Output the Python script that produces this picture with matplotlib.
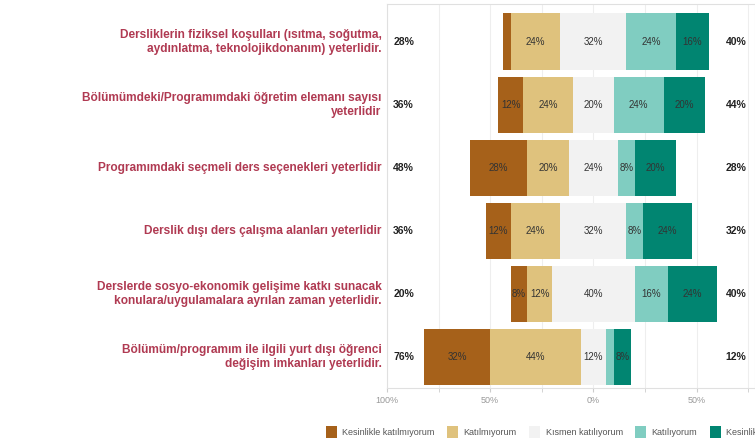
import matplotlib.pyplot as plt
from matplotlib.patches import Patch

items = [
    "Dersliklerin fiziksel koşulları (ısıtma, soğutma,\naydınlatma, teknolojikdonanım) yeterlidir.",
    "Bölümümdeki/Programımdaki öğretim elemanı sayısı\nyeterlidir",
    "Programımdaki seçmeli ders seçenekleri yeterlidir",
    "Derslik dışı ders çalışma alanları yeterlidir",
    "Derslerde sosyo-ekonomik gelişime katkı sunacak\nkonulara/uygulamalara ayrılan zaman yeterlidir.",
    "Bölümüm/programım ile ilgili yurt dışı öğrenci\ndeğişim imkanları yeterlidir.",
]
levels = ["Kesinlikle katılmıyorum", "Katılmıyorum", "Kısmen katılıyorum",
          "Katılıyorum", "Kesinlikle katılıyorum"]
strongly_disagree = [4, 12, 28, 12, 8, 32]
disagree = [24, 24, 20, 24, 12, 44]
neutral = [32, 20, 24, 32, 40, 12]
agree = [24, 24, 8, 8, 16, 4]
strongly_agree = [16, 20, 20, 24, 24, 8]
colors = ["#A6611A", "#DFC27D", "#F2F2F2", "#80CDC1", "#018571"]
xticks = [-100, -50, 0, 50]

plt.rcParams['font.family'] = ['Liberation Sans', 'DejaVu Sans']

fig = plt.figure(figsize=(7.55, 4.45), dpi=100)
ax = fig.add_axes([387 / 755, 1 - 388 / 445, 1 - 387 / 755, (388 - 4) / 445])

rows = range(len(items))
for i in rows:
    vals = [strongly_disagree[i], disagree[i], neutral[i], agree[i], strongly_agree[i]]
    start = -(neutral[i] / 2 + disagree[i] + strongly_disagree[i])
    for v, c in zip(vals, colors):
        ax.barh(i, v, left=start, height=0.9, color=c, edgecolor='none', zorder=2)
        if v >= 5:
            ax.text(start + v / 2, i, f"{v}%", ha='center', va='center',
                    fontsize=7, color='#333333', zorder=3)
        start += v
    low = strongly_disagree[i] + disagree[i]
    high = agree[i] + strongly_agree[i]
    ax.text(-97, i, f"{low}%", ha='left', va='center', fontsize=7.5,
            color='#222222', fontweight='bold')
    ax.text(69, i, f"{high}%", ha='center', va='center', fontsize=7.5,
            color='#222222', fontweight='bold')
    ax.text(-0.015, i, items[i], transform=ax.get_yaxis_transform(),
            ha='right', va='center', multialignment='right', fontsize=8.6,
            fontweight='bold', color='#b03a52', linespacing=1.15)

ax.set_xlim(-100, 78.3)
ax.set_ylim(5.49, -0.6)
ax.set_yticks([])
ax.set_xticks(xticks)
ax.set_xticklabels([f"{abs(t)}%" for t in xticks], fontsize=6.5, color='#999999')
ax.set_xticks([-75, -25, 25, 75], minor=True)
ax.tick_params(axis='x', which='both', length=3, color='#cccccc', pad=3)
ax.grid(axis='x', which='both', color='#eeeeee', linewidth=0.8, zorder=0)
for s in ax.spines.values():
    s.set_color('#e0e0e0')
    s.set_linewidth(0.8)

# legend runs past the right edge, as in the original crop
handles = [Patch(facecolor=c, edgecolor='none') for c in colors]
fig.legend(handles, levels, loc='center left', bbox_to_anchor=(318 / 755, 13 / 445),
           ncol=5, frameon=False, fontsize=6.5, handlelength=1.2, handleheight=1.5,
           handletextpad=0.6, columnspacing=1.4, labelcolor='#555555')

fig.savefig("out.png", dpi=100)
